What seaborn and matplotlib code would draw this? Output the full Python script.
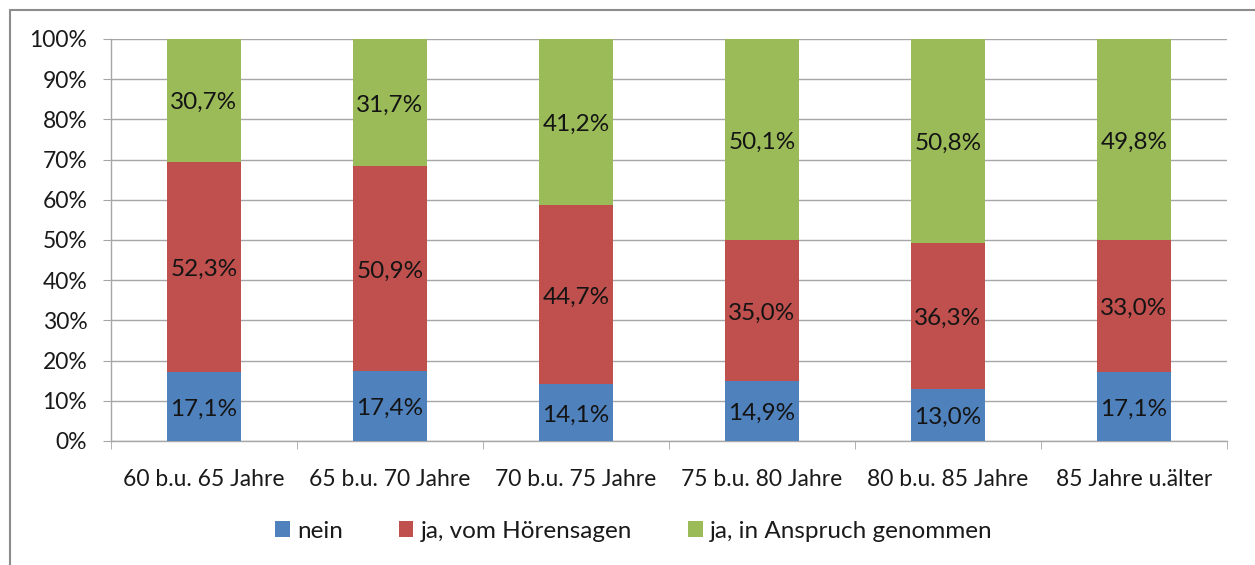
import numpy as np
import pandas as pd
import matplotlib
matplotlib.use("Agg")
import matplotlib.pyplot as plt
import seaborn as sns
from matplotlib.patches import Patch
from matplotlib.lines import Line2D

categories = ["60 b.u. 65 Jahre", "65 b.u. 70 Jahre", "70 b.u. 75 Jahre",
              "75 b.u. 80 Jahre", "80 b.u. 85 Jahre", "85 Jahre u.älter"]
nein = [17.1, 17.4, 14.1, 14.9, 13.0, 17.1]
hoerensagen = [52.3, 50.9, 44.7, 35.0, 36.3, 33.0]
anspruch = [30.7, 31.7, 41.2, 50.1, 50.8, 49.8]
series_names = ["nein", "ja, vom Hörensagen", "ja, in Anspruch genommen"]
colors = ["#4F81BD", "#C0504D", "#9BBB59"]

sns.set_style("white")
plt.rcParams['font.family'] = ['Lato', 'DejaVu Sans']

df = pd.DataFrame({"cat": categories, "nein": nein,
                   "hoer": hoerensagen, "ansp": anspruch})
df["top1"] = df["nein"]
df["top2"] = df["nein"] + df["hoer"]
df["top3"] = df["top2"] + df["ansp"]

fig = plt.figure(figsize=(12.55, 5.65), dpi=100)
ax = fig.add_axes([0.0884, 0.2195, 0.8893, 0.7115])

# stacked bars drawn as overlapping cumulative totals
for col, c in zip(["top3", "top2", "top1"], colors[::-1]):
    sns.barplot(data=df, x="cat", y=col, color=c, width=0.4, ax=ax,
                saturation=1, zorder=3, linewidth=0)

# labels at segment centers
segs = [("nein", "top1"), ("hoer", "top2"), ("ansp", "top3")]
for i in range(len(categories)):
    for val_col, top_col in segs:
        v = df[val_col][i]
        yc = df[top_col][i] - v / 2
        ax.text(i, yc - 0.6, f"{v:.1f}%".replace(".", ","), ha="center", va="center",
                fontsize=17.5, color="#141414", zorder=5)

ax.set_ylim(0, 100)
ax.set_xlim(-0.5, 5.5)
ax.set_yticks(np.arange(0, 101, 10))
ax.set_yticklabels([f"{t}%" for t in range(0, 101, 10)])
ax.yaxis.grid(True, color="#A6A6A6", linewidth=1)
ax.set_axisbelow(True)
ax.set_xlabel("")
ax.set_ylabel("")

for s in ["top", "right"]:
    ax.spines[s].set_visible(False)
for s in ["left", "bottom"]:
    ax.spines[s].set_color("#A6A6A6")
    ax.spines[s].set_linewidth(1)

ax.tick_params(axis="y", direction="out", length=6, color="#A6A6A6",
               labelsize=16.5, labelcolor="#1a1a1a", pad=11, left=True)
ax.tick_params(axis="x", length=0, labelsize=16.5, labelcolor="#1a1a1a", pad=20)
ax.set_xticks(np.arange(-0.5, 6, 1), minor=True)
ax.tick_params(axis="x", which="minor", direction="out", length=6,
               color="#A6A6A6", bottom=True)

handles = [Patch(facecolor=c, edgecolor="none") for c in colors]
fig.legend(handles, series_names, loc="center", bbox_to_anchor=(0.505, 0.06),
           ncol=3, frameon=False, fontsize=17.5, handlelength=0.6,
           handleheight=0.6, handletextpad=0.3, columnspacing=2.3,
           labelcolor="#1a1a1a")

# outer chart border (left and top visible)
fig.add_artist(Line2D([0.008, 0.008], [0.0, 0.982], color="#8C8C8C", linewidth=1.5))
fig.add_artist(Line2D([0.008, 1.0], [0.982, 0.982], color="#8C8C8C", linewidth=1.5))

fig.savefig("out.png", dpi=100)
